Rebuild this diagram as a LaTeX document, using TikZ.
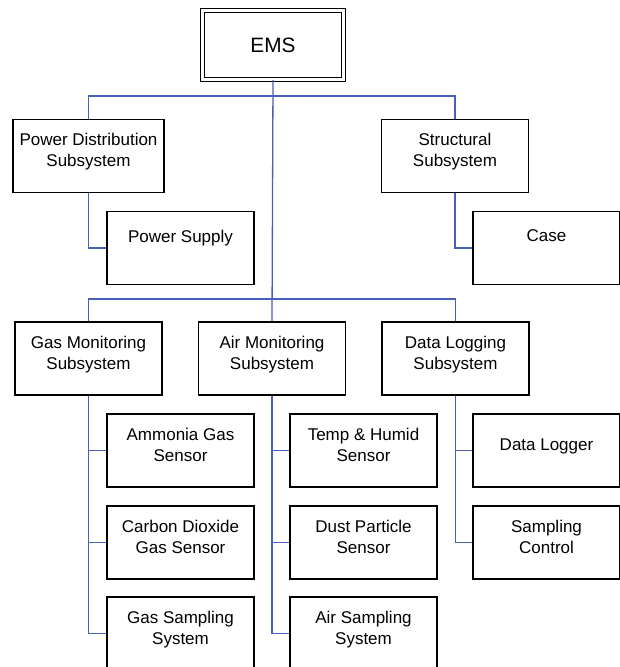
\documentclass[tikz,border=0pt]{standalone}
\usepackage{fontspec}
\setmainfont{Liberation Sans}
\usetikzlibrary{positioning,calc}

\definecolor{linkblue}{RGB}{74,94,190}

\begin{document}
\begin{tikzpicture}[
    x=0.5pt, y=-0.5pt,
    every node/.style={rectangle, draw, line width=0.7pt, align=center,
        font=\fontsize{8.5}{10.5}\selectfont},
    unit/.style={minimum width=73.5pt, minimum height=36.5pt, text depth=6pt},
    oneline/.style={unit, text depth=12pt},
    topbox/.style={minimum width=70.5pt, minimum height=34.5pt, double,
        line width=0.6pt, double distance=1.3pt, font=\fontsize{10.4}{12}\selectfont},
    link/.style={draw=linkblue, line width=0.65pt}
]
    \useasboundingbox (0,0) rectangle (619,667);

    % top level
    \node[topbox] (ems) at (273,45) {EMS};

    % first row
    \node[unit] (power) at (88.5,156) {Power Distribution\\Subsystem};
    \node[unit] (struct) at (455,156) {Structural\\Subsystem};
    \node[oneline] (supply) at (180.5,248) {Power Supply};
    \node[oneline] (case) at (546.5,248) {Case};

    % second row
    \node[unit] (gas) at (88.5,358.5) {Gas Monitoring\\Subsystem};
    \node[unit] (air) at (272,358.5) {Air Monitoring\\Subsystem};
    \node[unit] (log) at (455.5,358.5) {Data Logging\\Subsystem};

    \node[unit] (ammonia) at (180.5,450.5) {Ammonia Gas\\Sensor};
    \node[unit] (carbon) at (180.5,542.5) {Carbon Dioxide\\Gas Sensor};
    \node[unit] (gassamp) at (180.5,633.5) {Gas Sampling\\System};

    \node[unit] (temp) at (363.5,450.5) {Temp \& Humid\\Sensor};
    \node[unit] (dust) at (363.5,542.5) {Dust Particle\\Sensor};
    \node[unit] (airsamp) at (363.5,633.5) {Air Sampling\\System};

    \node[unit] (logger) at (546.5,450.5) {Data Logger};
    \node[unit] (control) at (546.5,542.5) {Sampling\\Control};

    % connectors
    \coordinate (bus1) at (273,96);
    \coordinate (bus2) at (273,299);
    \draw[link] (ems.south) -- (air.north);
    \draw[link] (power.north) |- (bus1) -| (struct.north);
    \draw[link] (gas.north) |- (bus2) -| (log.north);

    \draw[link] (power.south) |- (supply.west);
    \draw[link] (struct.south) |- (case.west);

    \draw[link] (gas.south) |- (ammonia.west);
    \draw[link] (gas.south) |- (carbon.west);
    \draw[link] (gas.south) |- (gassamp.west);

    \draw[link] (air.south) |- (temp.west);
    \draw[link] (air.south) |- (dust.west);
    \draw[link] (air.south) |- (airsamp.west);

    \draw[link] (log.south) |- (logger.west);
    \draw[link] (log.south) |- (control.west);
\end{tikzpicture}
\end{document}
